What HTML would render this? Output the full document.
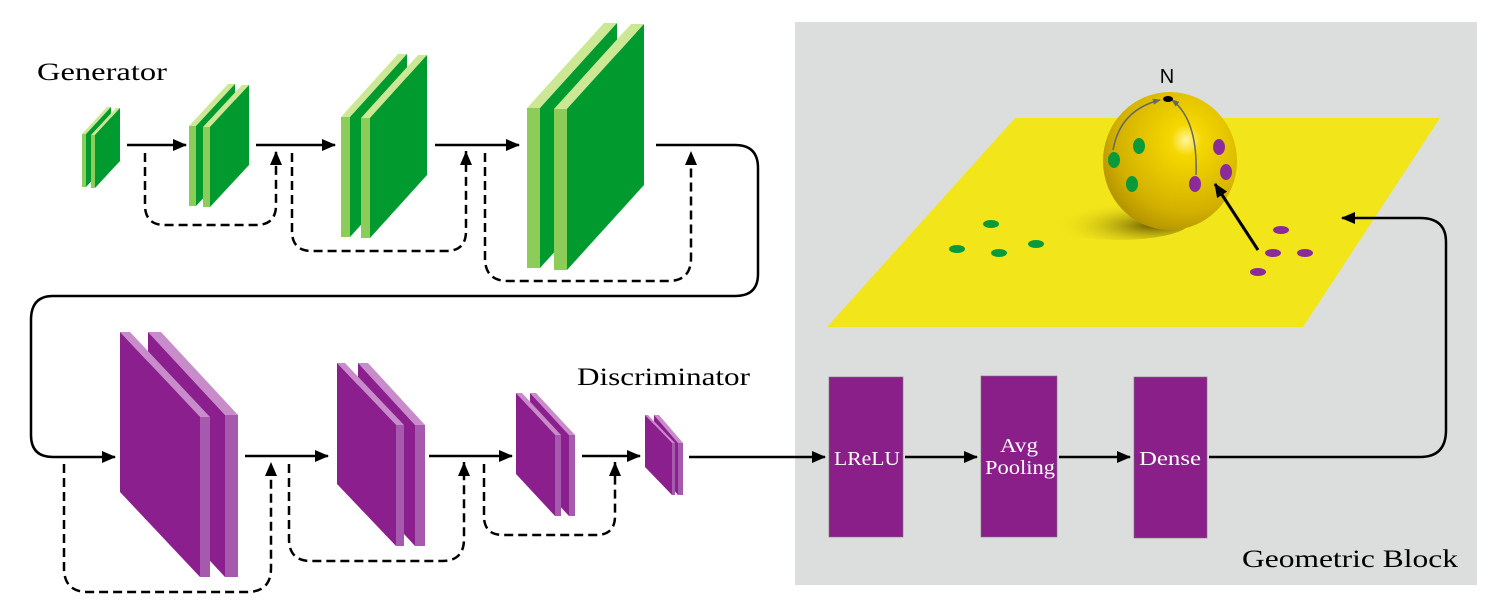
<!DOCTYPE html>
<html><head><meta charset="utf-8"><style>
html,body{margin:0;padding:0;background:#fff;}
svg{display:block;}
.t{font-family:"Liberation Serif",serif;}
</style></head><body>
<svg width="1493" height="606" viewBox="0 0 1493 606" xmlns="http://www.w3.org/2000/svg">
<defs>
<marker id="ah" markerWidth="12" markerHeight="14" refX="6" refY="0" orient="0" markerUnits="userSpaceOnUse"><path d="M0,14 L6,0 L12,14 z" fill="#000"/></marker>
<marker id="ahs" markerWidth="14" markerHeight="12" refX="13" refY="6" orient="auto" markerUnits="userSpaceOnUse"><path d="M0,0 L14,6 L0,12 z" fill="#000"/></marker>
<marker id="ag" markerWidth="8" markerHeight="6" refX="7" refY="3" orient="auto" markerUnits="userSpaceOnUse"><path d="M0,0 L8,3 L0,6 z" fill="#666"/></marker>
<radialGradient id="sph" cx="0.62" cy="0.35" r="0.75">
<stop offset="0" stop-color="#fff6a0"/><stop offset="0.15" stop-color="#f5d800"/><stop offset="0.7" stop-color="#d2b000"/><stop offset="1" stop-color="#a88a00"/></radialGradient>
<radialGradient id="shd" cx="0.75" cy="0.6" r="0.7">
<stop offset="0" stop-color="#6a5a00"/><stop offset="1" stop-color="#f2e51a" stop-opacity="0"/></radialGradient>
</defs>

<rect x="795" y="22" width="682" height="563" fill="#dcdedd"/>
<polygon points="1015,118 1440,118 1303,327 827,327" fill="#f2e51a"/>
<ellipse cx="1118" cy="222" rx="72" ry="18" fill="url(#shd)"/>
<ellipse cx="1170" cy="161" rx="67" ry="69" fill="url(#sph)"/>
<path d="M1113,150 Q1120,110 1160,100" fill="none" stroke="#666" stroke-width="1.5" marker-end="url(#ag)"/>
<path d="M1196,175 Q1198,120 1172,100" fill="none" stroke="#666" stroke-width="1.5" marker-end="url(#ag)"/>
<ellipse cx="1168" cy="99" rx="5" ry="3" fill="#000"/>
<text x="1167" y="83" font-family="Liberation Sans,sans-serif" font-size="20" text-anchor="middle">N</text>
<g fill="#0a9a3a">
<ellipse cx="1114" cy="160" rx="6" ry="8"/><ellipse cx="1139" cy="146" rx="6" ry="8"/><ellipse cx="1132" cy="184" rx="6" ry="8"/>
<ellipse cx="991" cy="224" rx="8" ry="4"/><ellipse cx="957" cy="249" rx="8" ry="4"/><ellipse cx="999" cy="253" rx="8" ry="4"/><ellipse cx="1036" cy="244" rx="8" ry="4"/>
</g>
<g fill="#8b2a99">
<ellipse cx="1219" cy="147" rx="6" ry="8"/><ellipse cx="1226" cy="172" rx="6" ry="8"/><ellipse cx="1195" cy="184" rx="6" ry="8"/>
<ellipse cx="1281" cy="230" rx="8" ry="4"/><ellipse cx="1273" cy="253" rx="8" ry="4"/><ellipse cx="1305" cy="253" rx="8" ry="4"/><ellipse cx="1258" cy="272" rx="8" ry="4"/>
</g>
<line x1="1258" y1="250" x2="1215" y2="184" stroke="#000" stroke-width="3" marker-end="url(#ahs)"/>

<g fill="#8a1f8a" stroke="#777" stroke-width="0.6">
<rect x="829" y="377" width="74" height="160"/>
<rect x="981" y="376" width="76" height="161"/>
<rect x="1134" y="377" width="73" height="161"/>
</g>
<g class="t" fill="#fff" font-size="20">
<text x="834" y="465" textLength="66" lengthAdjust="spacingAndGlyphs">LReLU</text>
<text x="1000" y="452" textLength="38" lengthAdjust="spacingAndGlyphs">Avg</text>
<text x="985" y="474" textLength="70" lengthAdjust="spacingAndGlyphs">Pooling</text>
<text x="1139" y="465" textLength="62" lengthAdjust="spacingAndGlyphs">Dense</text>
</g>
<g stroke="#000" stroke-width="2.5" fill="none">
<line x1="689" y1="457" x2="825" y2="457" marker-end="url(#ahs)"/>
<line x1="905" y1="457" x2="977" y2="457" marker-end="url(#ahs)"/>
<line x1="1059" y1="457" x2="1130" y2="457" marker-end="url(#ahs)"/>
<path d="M1209,457 L1420,457 Q1446,457 1446,430 L1446,242 Q1446,218 1420,218 L1342,218" marker-end="url(#ahs)"/>
</g>
<text class="t" x="1242" y="567" font-size="25" textLength="216" lengthAdjust="spacingAndGlyphs">Geometric Block</text>

<text class="t" x="37" y="80" font-size="25" textLength="130" lengthAdjust="spacingAndGlyphs">Generator</text>
<g>
<polygon points="82,134 86,134 111,107 107,107" fill="#cde895"/><polygon points="86,134 111,107 111,160 86,187" fill="#009a2e"/><rect x="82" y="134" width="4" height="53" fill="#8ccd5a"/>
<polygon points="91,135 95,135 120,108 116,108" fill="#cde895"/><polygon points="95,135 120,108 120,161 95,188" fill="#009a2e"/><rect x="91" y="135" width="4" height="53" fill="#8ccd5a"/>
<polygon points="189,126 196,126 235,84 228,84" fill="#cde895"/><polygon points="196,126 235,84 235,164 196,206" fill="#009a2e"/><rect x="189" y="126" width="7" height="80" fill="#8ccd5a"/>
<polygon points="203,127 210,127 249,85 242,85" fill="#cde895"/><polygon points="210,127 249,85 249,165 210,207" fill="#009a2e"/><rect x="203" y="127" width="7" height="80" fill="#8ccd5a"/>
<polygon points="341,117 350,117 407,54 398,54" fill="#cde895"/><polygon points="350,117 407,54 407,174 350,237" fill="#009a2e"/><rect x="341" y="117" width="9" height="120" fill="#8ccd5a"/>
<polygon points="361,118 370,118 427,55 418,55" fill="#cde895"/><polygon points="370,118 427,55 427,175 370,238" fill="#009a2e"/><rect x="361" y="118" width="9" height="120" fill="#8ccd5a"/>
<polygon points="527,108 540,108 617,23 604,23" fill="#cde895"/><polygon points="540,108 617,23 617,183 540,268" fill="#009a2e"/><rect x="527" y="108" width="13" height="160" fill="#8ccd5a"/>
<polygon points="554,109 567,109 644,24 631,24" fill="#cde895"/><polygon points="567,109 644,24 644,185 567,270" fill="#009a2e"/><rect x="554" y="109" width="13" height="161" fill="#8ccd5a"/>
</g>
<g stroke="#000" stroke-width="2.5" fill="none">
<line x1="127" y1="145" x2="186" y2="145" marker-end="url(#ahs)"/>
<line x1="256" y1="145" x2="335" y2="145" marker-end="url(#ahs)"/>
<line x1="435" y1="145" x2="519" y2="145" marker-end="url(#ahs)"/>
<path d="M656,145 L735,145 Q758,145 758,168 L758,274 Q758,296 735,296 L53,296 Q31,296 31,320 L31,435 Q31,457 53,457 L115,457" marker-end="url(#ahs)"/>
</g>
<g stroke="#000" stroke-width="2.5" fill="none" stroke-dasharray="9,5">
<path d="M145,153 L145,205 Q145,225 165,225 L256,225 Q276,225 276,205 L276,151" marker-end="url(#ah)"/>
<path d="M292,153 L292,231 Q292,251 312,251 L446,251 Q466,251 466,231 L466,151" marker-end="url(#ah)"/>
<path d="M485,153 L485,258 Q485,281 508,281 L668,281 Q691,281 691,258 L691,151" marker-end="url(#ah)"/>
</g>

<text class="t" x="577" y="385" font-size="25" textLength="173" lengthAdjust="spacingAndGlyphs">Discriminator</text>
<polygon points="148,332 161,332 238,415 225,415" fill="#c98ccb"/><polygon points="148,332 225,415 225,577 148,494" fill="#8b1f8d"/><rect x="225" y="415" width="13" height="162" fill="#a65aae"/>
<polygon points="120,332 130,332 210,417 200,417" fill="#c98ccb"/><polygon points="120,332 200,417 200,577 120,492" fill="#8b1f8d"/><rect x="200" y="417" width="10" height="160" fill="#a65aae"/>
<polygon points="358,363 368,363 425,425 415,425" fill="#c98ccb"/><polygon points="358,363 415,425 415,546 358,484" fill="#8b1f8d"/><rect x="415" y="425" width="10" height="121" fill="#a65aae"/>
<polygon points="337,363 345,363 404,425 396,425" fill="#c98ccb"/><polygon points="337,363 396,425 396,546 337,484" fill="#8b1f8d"/><rect x="396" y="425" width="8" height="121" fill="#a65aae"/>
<polygon points="530,393 536,393 575,435 569,435" fill="#c98ccb"/><polygon points="530,393 569,435 569,516 530,474" fill="#8b1f8d"/><rect x="569" y="435" width="6" height="81" fill="#a65aae"/>
<polygon points="516,393 522,393 561,435 555,435" fill="#c98ccb"/><polygon points="516,393 555,435 555,516 516,474" fill="#8b1f8d"/><rect x="555" y="435" width="6" height="81" fill="#a65aae"/>
<polygon points="654,415 659,415 683,443 678,443" fill="#c98ccb"/><polygon points="654,415 678,443 678,495 654,467" fill="#8b1f8d"/><rect x="678" y="443" width="5" height="52" fill="#a65aae"/>
<polygon points="645,415 648,415 675,443 672,443" fill="#c98ccb"/><polygon points="645,415 672,443 672,495 645,467" fill="#8b1f8d"/><rect x="672" y="443" width="3" height="52" fill="#a65aae"/>

<g stroke="#000" stroke-width="2.5" fill="none">
<line x1="245" y1="456" x2="328" y2="456" marker-end="url(#ahs)"/>
<line x1="429" y1="456" x2="512" y2="456" marker-end="url(#ahs)"/>
<line x1="582" y1="456" x2="640" y2="456" marker-end="url(#ahs)"/>
</g>
<g stroke="#000" stroke-width="2.5" fill="none" stroke-dasharray="9,5">
<path d="M64,464 L64,568 Q64,592 88,592 L247,592 Q271,592 271,568 L271,462" marker-end="url(#ah)"/>
<path d="M289,464 L289,539 Q289,561 311,561 L442,561 Q464,561 464,539 L464,462" marker-end="url(#ah)"/>
<path d="M484,464 L484,516 Q484,535 503,535 L596,535 Q615,535 615,516 L615,462" marker-end="url(#ah)"/>
</g>
</svg>
</body></html>
